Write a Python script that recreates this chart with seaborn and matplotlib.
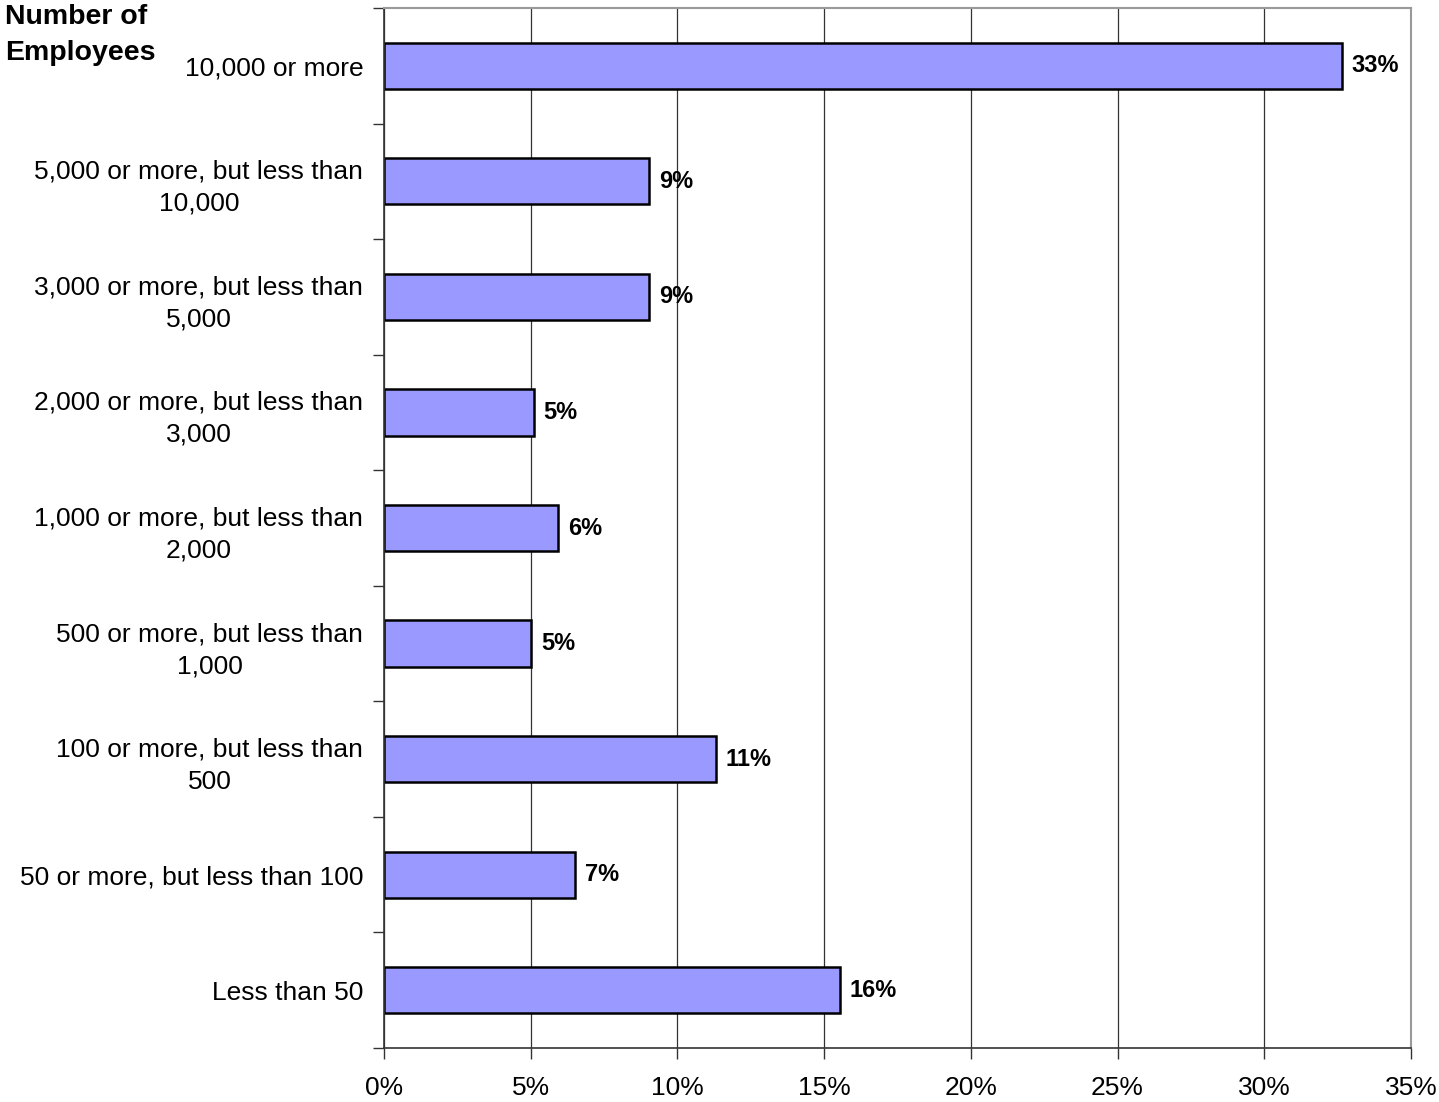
import matplotlib
matplotlib.use("Agg")
import matplotlib.pyplot as plt
import pandas as pd
import seaborn as sns
from matplotlib.ticker import FixedLocator, PercentFormatter

# Share of respondents by organisation size
categories = [
    "10,000 or more",
    "5,000 or more, but less than\n10,000",
    "3,000 or more, but less than\n5,000",
    "2,000 or more, but less than\n3,000",
    "1,000 or more, but less than\n2,000",
    "500 or more, but less than\n1,000",
    "100 or more, but less than\n500",
    "50 or more, but less than 100",
    "Less than 50",
]
shares = [32.65, 9.03, 9.03, 5.11, 5.93, 5.01, 11.32, 6.51, 15.54]
value_labels = ["33%", "9%", "9%", "5%", "6%", "5%", "11%", "7%", "16%"]

df = pd.DataFrame({"size": categories, "share": shares})

sns.set_style("white")
plt.rcParams["font.family"] = ["Liberation Sans", "DejaVu Sans"]
plt.rcParams["text.color"] = "black"
plt.rcParams["xtick.color"] = "black"
plt.rcParams["ytick.color"] = "black"

fig = plt.figure(figsize=(14.39, 11.02), dpi=100)
ax = fig.add_axes([0.2669, 0.049, 0.7136, 0.9437])

sns.barplot(data=df, x="share", y="size", orient="h", order=categories,
            color="#9999FF", edgecolor="black", linewidth=1.8, width=0.4,
            saturation=1, ax=ax)

ax.set_xlim(0, 35)
ax.set_ylim(len(categories) - 0.5, -0.5)
ax.set_xticks(range(0, 36, 5))
ax.xaxis.set_major_formatter(PercentFormatter(decimals=0))
ax.grid(axis="x", color="#333333", linewidth=0.9)
ax.set_axisbelow(True)

# y ticks sit between the categories
ax.yaxis.set_minor_locator(FixedLocator([i - 0.5 for i in range(len(categories) + 1)]))
ax.tick_params(axis="y", which="major", length=0, pad=15, labelsize=19)
ax.tick_params(axis="y", which="minor", length=8, width=1, color="#333333", left=True)
ax.tick_params(axis="x", which="major", length=8, width=1, color="#333333",
               bottom=True, labelsize=19, pad=12)
for lab in ax.get_yticklabels():
    lab.set_multialignment("center")
    lab.set_linespacing(1.42)

for side in ["left", "bottom"]:
    ax.spines[side].set_color("#333333")
    ax.spines[side].set_linewidth(1.2)
for side in ["top", "right"]:
    ax.spines[side].set_color("#999999")
    ax.spines[side].set_linewidth(1.5)

ax.set_xlabel("")
ax.set_ylabel("")

ax.bar_label(ax.containers[0], labels=value_labels, padding=7,
             fontsize=17, fontweight="bold")

fig.text(0.0035, 0.996, "Number of\nEmployees", ha="left", va="top",
         fontsize=20.5, fontweight="bold", linespacing=1.5)

fig.savefig("out.png", dpi=100)
